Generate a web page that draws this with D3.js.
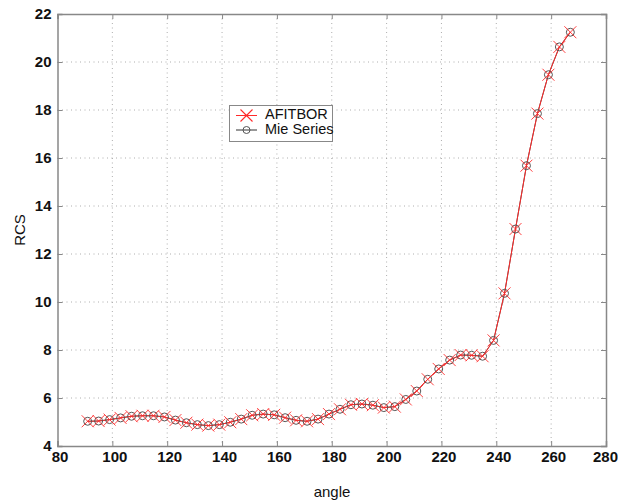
<!DOCTYPE html>
<html><head><meta charset="utf-8">
<script src="https://cdn.jsdelivr.net/npm/d3@7"></script>
<style>body{margin:0;background:#fff}svg{display:block}</style>
</head><body><svg id="c" width="618" height="502"></svg>
<script>
const angles = [91,95,99,103,107,111,115,119,123,127,131,135,139,143,147,151,155,159,163,167,171,175,179,183,187,191,195,199,203,207,211,215,219,223,227,231,235,239,243,247,251,255,259,263,267];
const afitbor = [5.03,5.04,5.10,5.17,5.24,5.26,5.26,5.21,5.08,4.97,4.89,4.85,4.89,4.99,5.12,5.28,5.33,5.30,5.18,5.07,5.03,5.12,5.33,5.53,5.72,5.75,5.70,5.60,5.64,5.94,6.29,6.78,7.21,7.58,7.79,7.78,7.74,8.40,10.36,13.04,15.68,17.85,19.47,20.63,21.24];
const mie = afitbor.slice();
const xTicks = [80,100,120,140,160,180,200,220,240,260,280];
const yTicks = [4,6,8,10,12,14,16,18,20,22];
const seriesNames = ["AFITBOR","Mie Series"];

const svg = d3.select("#c");
const L=57.5,R=606,T=14,B=446;
const x = d3.scaleLinear().domain([80,280]).range([L,R]);
const y = d3.scaleLinear().domain([4,22]).range([B,T]);
const font = "'Liberation Sans', Arial, sans-serif";
const RED = "#ff2a2a";

// grid
const g = svg.append("g");
g.selectAll(".gx").data(xTicks.slice(1,-1)).enter().append("line")
 .attr("x1",d=>x(d)).attr("x2",d=>x(d)).attr("y1",T).attr("y2",B)
 .attr("stroke","#999").attr("stroke-width",0.8).attr("stroke-dasharray","1,3.5");
g.selectAll(".gy").data(yTicks.slice(1,-1)).enter().append("line")
 .attr("y1",d=>y(d)).attr("y2",d=>y(d)).attr("x1",L).attr("x2",R)
 .attr("stroke","#999").attr("stroke-width",0.8).attr("stroke-dasharray","1,3.5");

// axes
const axB = d3.axisBottom(x).tickValues(xTicks).tickSize(-5).tickPadding(5).tickFormat(d3.format("d"));
const axT = d3.axisTop(x).tickValues(xTicks).tickSize(-5).tickFormat("");
const axL = d3.axisLeft(y).tickValues(yTicks).tickSize(-5).tickPadding(6).tickFormat(d3.format("d"));
const axR = d3.axisRight(y).tickValues(yTicks).tickSize(-5).tickFormat("");
function style(sel){
  sel.select(".domain").attr("stroke","#888").attr("stroke-width",1.5);
  sel.selectAll(".tick line").attr("stroke","#888").attr("stroke-width",1);
  sel.selectAll("text").attr("font-family",font).attr("font-size",15).attr("font-weight","bold").attr("fill","#111");
}
svg.append("g").attr("transform",`translate(0,${B})`).call(axB).call(style)
  .selectAll(".tick text").attr("dx",d=>d===280?-1:2);
svg.append("g").attr("transform",`translate(0,${T})`).call(axT).call(style);
svg.append("g").attr("transform",`translate(${L},0)`).call(axL).call(style);
svg.append("g").attr("transform",`translate(${R},0)`).call(axR).call(style);

// lines
const line = d3.line().x((d,i)=>x(angles[i])).y(d=>y(d));
svg.append("path").attr("d",line(mie)).attr("fill","none").attr("stroke","#333").attr("stroke-width",0.9);
svg.append("path").attr("d",line(afitbor)).attr("fill","none").attr("stroke",RED).attr("stroke-width",1);

// markers
svg.append("g").selectAll("circle").data(mie).enter().append("circle")
 .attr("cx",(d,i)=>x(angles[i])).attr("cy",d=>y(d)).attr("r",4)
 .attr("fill","none").attr("stroke","#555").attr("stroke-width",1);
const s=6;
function xPath(cx,cy){return `M${cx-s},${cy-s}L${cx+s},${cy+s}M${cx-s},${cy+s}L${cx+s},${cy-s}`;}
svg.append("g").attr("class","xmarks").selectAll("path").data(afitbor).enter().append("path")
 .attr("d",(d,i)=>xPath(x(angles[i]),y(d)))
 .attr("stroke",RED).attr("stroke-width",0.9).attr("fill","none");

// legend
const lg = svg.append("g").attr("class","legend");
lg.append("rect").attr("x",229.5).attr("y",105.5).attr("width",103).attr("height",36)
 .attr("fill","#fff").attr("stroke","#888").attr("stroke-width",1);
lg.append("line").attr("x1",236).attr("x2",257).attr("y1",115.5).attr("y2",115.5)
 .style("stroke",RED).style("stroke-width","1px");
lg.append("path").attr("d",xPath(246.5,115.5))
 .style("stroke",RED).style("stroke-width","1.1px").style("fill","none");
lg.append("line").attr("x1",236).attr("x2",257).attr("y1",130).attr("y2",130).style("stroke","#333");
lg.append("circle").attr("cx",246.5).attr("cy",130).attr("r",3.5).style("fill","none").style("stroke","#555");
lg.append("text").attr("x",265).attr("y",118.5).text(seriesNames[0]).attr("font-family",font).attr("font-size",14.5).attr("fill","#111");
lg.append("text").attr("x",265).attr("y",133.5).text(seriesNames[1]).attr("font-family",font).attr("font-size",14.5).attr("fill","#111");

// axis labels
svg.append("text").attr("x",332).attr("y",497).attr("text-anchor","middle").text("angle")
 .attr("font-family",font).attr("font-size",15).attr("fill","#111");
svg.append("text").attr("transform","translate(25,230) rotate(-90)").attr("text-anchor","middle").text("RCS")
 .attr("font-family",font).attr("font-size",15).attr("fill","#111");
</script></body></html>
